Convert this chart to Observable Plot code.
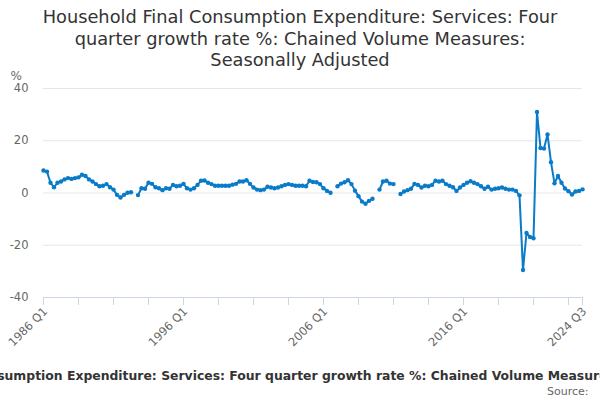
<!DOCTYPE html>
<html>
<head>
<meta charset="utf-8">
<script src="https://cdn.jsdelivr.net/npm/d3@7"></script>
<script src="https://cdn.jsdelivr.net/npm/@observablehq/plot@0.6"></script>
<style>
  body { margin: 0; background: #fff; font-family: "DejaVu Sans", sans-serif; }
  #wrap { position: relative; width: 600px; height: 400px; overflow: hidden; background: #fff; }
  #title { position: relative; z-index: 2; height: 62px; text-align: center; font-size: 17.8px; line-height: 21.7px; color: #333; padding-top: 6px; box-sizing: border-box; white-space: nowrap; }
  #chart { position: relative; z-index: 1; height: 300px; }
  #chart svg { display: block; overflow: visible; }
  #cap { position: absolute; left: 0; top: 368px; width: 600px; height: 20px; overflow: hidden; }
  #cap span { position: absolute; left: 310px; top: 0; transform: translateX(-50%); white-space: nowrap; font-weight: bold; font-size: 12.4px; line-height: 16px; color: #333; }
  #src { position: absolute; right: 8px; top: 385px; font-size: 11px; line-height: 13px; color: #666; white-space: pre; }
</style>
</head>
<body>
<div id="wrap">
  <div id="title">Household Final Consumption Expenditure: Services: Four<br>quarter growth rate %: Chained Volume Measures:<br>Seasonally Adjusted</div>
  <div id="chart"></div>
  <div id="cap"><span>Household Final Consumption Expenditure: Services: Four quarter growth rate %: Chained Volume Measures: Seasonally Adjusted</span></div>
  <div id="src">Source: </div>
</div>
<script>
// First quarter of the series: 1986 Q1, quarterly through 2024 Q3
const startYear = 1986;
const startQuarter = 1;

// Four quarter growth rate %, one value per quarter (null = no value shown)
const values = [
  8.6, 8.2, 3.9, 2.2, 3.9, 4.4, 5.2, 5.7, 5.4, 5.7,
  6.0, 7.0, 6.5, 5.2, 4.4, 3.4, 2.6, 2.8, 3.4, 2.2,
  1.3, -0.7, -1.7, -0.7, 0.1, 0.3, null, -0.8, 1.8, 1.6,
  3.9, 3.5, 2.2, 1.8, 1.1, 1.8, 1.6, 3.1, 2.6, 2.8,
  3.5, 1.8, 1.3, 1.8, 3.1, 4.7, 4.8, 3.9, 3.4, 2.8,
  2.8, 2.8, 2.8, 2.8, 3.2, 3.5, 4.4, 4.4, 4.9, 3.5,
  2.1, 1.3, 1.1, 1.3, 2.4, 2.1, 1.8, 2.1, 2.6, 3.1,
  3.4, 3.1, 2.8, 2.8, 2.8, 2.6, 4.7, 4.2, 4.1, 3.4,
  1.8, 0.8, 0.1, null, 2.6, 3.6, 4.1, 4.9, 3.4, 0.9,
  -1.2, -3.3, -4.1, -3.0, -2.2, null, 1.3, 4.4, 4.7, 3.6,
  3.4, null, -0.4, 0.6, 1.1, 1.6, 3.5, 3.1, 2.1, 2.8,
  2.6, 3.1, 4.7, 4.4, 4.7, 3.4, 2.8, 2.2, 0.8, 2.1,
  3.1, 3.9, 4.5, 3.9, 3.4, 2.6, 1.6, 2.4, 1.3, 1.6,
  1.8, 2.1, 1.6, 1.3, 1.3, 0.8, -0.9, -29.5, -15.3, -16.8,
  -17.3, 31.0, 17.2, 17.0, 22.4, 11.8, 3.7, 6.5, 3.9, 1.7,
  0.7, -0.6, 0.6, 0.8, 1.4
];

// Axis ticks
const yTicks = [-40, -20, 0, 20, 40];
const xLabels = ["1986 Q1", "1996 Q1", "2006 Q1", "2016 Q1", "2024 Q3"];
const xTickEveryQuarters = 10;
const yUnit = "%";

const toT = s => { const [y, q] = s.split(" Q"); return +y + (+q - 1) / 4; };
const fmtT = t => { const y = Math.floor(t + 1e-9); const q = Math.round((t - y) * 4) + 1; return `${y} Q${q}`; };

const t0 = startYear + (startQuarter - 1) / 4;
const data = values.map((v, i) => ({ t: t0 + i / 4, v }));
const lastT = data[data.length - 1].t;
const tickTs = d3.range(0, values.length, xTickEveryQuarters).map(i => t0 + i / 4).concat([lastT]);
const labelTs = xLabels.map(toT);
const blue = "#0a7bc8";

const chart = Plot.plot({
  width: 600,
  height: 300,
  marginTop: 26,
  marginBottom: 65,
  marginLeft: 43,
  marginRight: 18,
  style: { fontFamily: '"DejaVu Sans", sans-serif', fontSize: "11px", background: "transparent", overflow: "visible" },
  x: { domain: [t0, lastT], axis: null },
  y: { domain: [-40, 40], axis: null },
  marks: [
    Plot.gridY(yTicks, { stroke: "#e6e6e6", strokeOpacity: 1, strokeWidth: 1 }),
    Plot.axisY(yTicks, { tickSize: 0, tickPadding: 15, fill: "#666", label: null, tickFormat: d => String(d), fontSize: 11.5 }),
    Plot.ruleY([-40], { stroke: "#ccd6eb", strokeWidth: 1 }),
    Plot.axisX(tickTs, { tickSize: 8, stroke: "#ccd6eb", strokeOpacity: 1, tickFormat: () => "", label: null }),
    Plot.axisX(labelTs, { tickSize: 0, tickPadding: 12, tickRotate: -45, fill: "#666", tickFormat: fmtT, label: null, fontSize: 11.5, dx: 2 }),
    Plot.text([yUnit], { frameAnchor: "top-left", dx: -33, dy: -17, textAnchor: "start", fill: "#666", fontSize: 12 }),
    Plot.line(data, { x: "t", y: "v", stroke: blue, strokeWidth: 2 }),
    Plot.dot(data.filter(d => d.v != null), { x: "t", y: "v", r: 2.2, fill: blue })
  ]
});
document.getElementById("chart").appendChild(chart);
</script>
</body>
</html>
